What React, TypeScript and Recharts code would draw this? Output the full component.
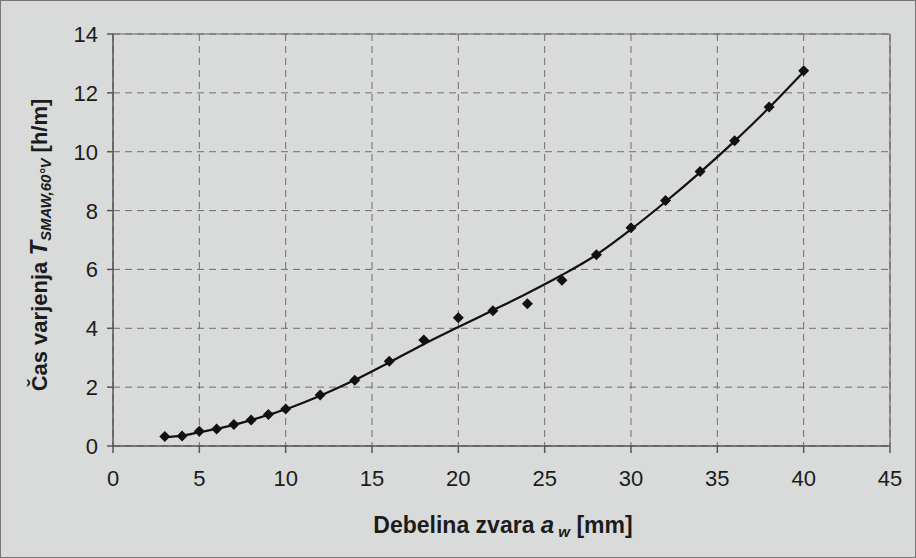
import { LineChart, Line, XAxis, YAxis, CartesianGrid, ReferenceLine } from "recharts";

const thickness = [3, 4, 5, 6, 7, 8, 9, 10, 12, 14, 16, 18, 20, 22, 24, 26, 28, 30, 32, 34, 36, 38, 40];
const measured = [0.32, 0.34, 0.5, 0.58, 0.73, 0.88, 1.07, 1.26, 1.73, 2.23, 2.88, 3.6, 4.36, 4.6, 4.83, 5.63, 6.5, 7.42, 8.34, 9.33, 10.37, 11.52, 12.75];
const trend = [0.3, 0.35, 0.47, 0.58, 0.72, 0.88, 1.06, 1.25, 1.71, 2.24, 2.84, 3.46, 4.04, 4.61, 5.19, 5.81, 6.5, 7.36, 8.3, 9.3, 10.36, 11.5, 12.72];
const xTicks = [0, 5, 10, 15, 20, 25, 30, 35, 40, 45];
const yTicks = [0, 2, 4, 6, 8, 10, 12, 14];

const rows = thickness.map((x, i) => ({ x, measured: measured[i], trend: trend[i] }));

const FONT = "Arial, 'Liberation Sans', sans-serif";
const INK = "#1c1c1c";

const Diamond = (props: any) => {
  const { cx, cy } = props;
  if (cx == null || cy == null) return null;
  const r = 5.5;
  return (
    <polygon
      points={`${cx},${cy - r} ${cx + r},${cy} ${cx},${cy + r} ${cx - r},${cy}`}
      fill="#111"
    />
  );
};

// tick labels drawn by hand so the size sticks
const XTick = (p: any) => (
  <text x={p.x} y={p.y + 31} textAnchor="middle" fontFamily={FONT} fontSize={22} fill={INK}>
    {p.payload.value}
  </text>
);

const YTick = (p: any) => (
  <text x={p.x - 1} y={p.y + 8} textAnchor="end" fontFamily={FONT} fontSize={22} fill={INK}>
    {p.payload.value}
  </text>
);

const YTitle = () => (
  <text
    transform="translate(46,244) rotate(-90)"
    textAnchor="middle"
    fontFamily={FONT}
    fontWeight="bold"
    fontSize={22}
    fill={INK}
  >
    Čas varjenja{" "}
    <tspan fontStyle="italic" fontSize={24}>T</tspan>
    <tspan fontStyle="italic" fontSize={15} dy={4}>SMAW,60°V</tspan>
    <tspan dy={-4}> [h/m]</tspan>
  </text>
);

const XTitle = () => (
  <text x={502} y={532} textAnchor="middle" fontFamily={FONT} fontWeight="bold" fontSize={23} fill={INK}>
    Debelina zvara{" "}
    <tspan fontStyle="italic" fontSize={24}>a</tspan>
    <tspan fontStyle="italic" fontSize={15} dy={4}> w</tspan>
    <tspan dy={-4}> [mm]</tspan>
  </text>
);

export default function App() {
  return (
    <div
      style={{
        position: "absolute",
        left: 0,
        top: 0,
        width: 916,
        height: 558,
        background: "#d9dbda",
        boxSizing: "border-box",
        border: "1px solid #777",
      }}
    >
      <LineChart
        width={914}
        height={556}
        data={rows}
        margin={{ top: 33, right: 25, left: 0, bottom: 0 }}
      >
        <CartesianGrid stroke="#6e6e6e" strokeDasharray="7 5" strokeWidth={1} />
        <XAxis
          type="number"
          dataKey="x"
          domain={[0, 45]}
          ticks={xTicks}
          height={111}
          stroke="#555"
          strokeWidth={1.5}
          tickSize={7}
          tickMargin={2}
          tick={<XTick />}
          label={{ content: () => <XTitle /> }}
        />
        <YAxis
          type="number"
          domain={[0, 14]}
          ticks={yTicks}
          width={112}
          stroke="#555"
          strokeWidth={1.5}
          tickSize={6}
          tickMargin={8}
          tick={<YTick />}
          label={{ content: () => <YTitle /> }}
        />
        <ReferenceLine y={14} stroke="#666" strokeWidth={1.2} />
        <ReferenceLine x={45} stroke="#666" strokeWidth={1.2} />
        <Line
          dataKey="trend"
          type="monotone"
          stroke="#111"
          strokeWidth={2.2}
          dot={false}
          isAnimationActive={false}
        />
        <Line
          dataKey="measured"
          stroke="none"
          dot={<Diamond />}
          activeDot={false}
          isAnimationActive={false}
        />
      </LineChart>
    </div>
  );
}
